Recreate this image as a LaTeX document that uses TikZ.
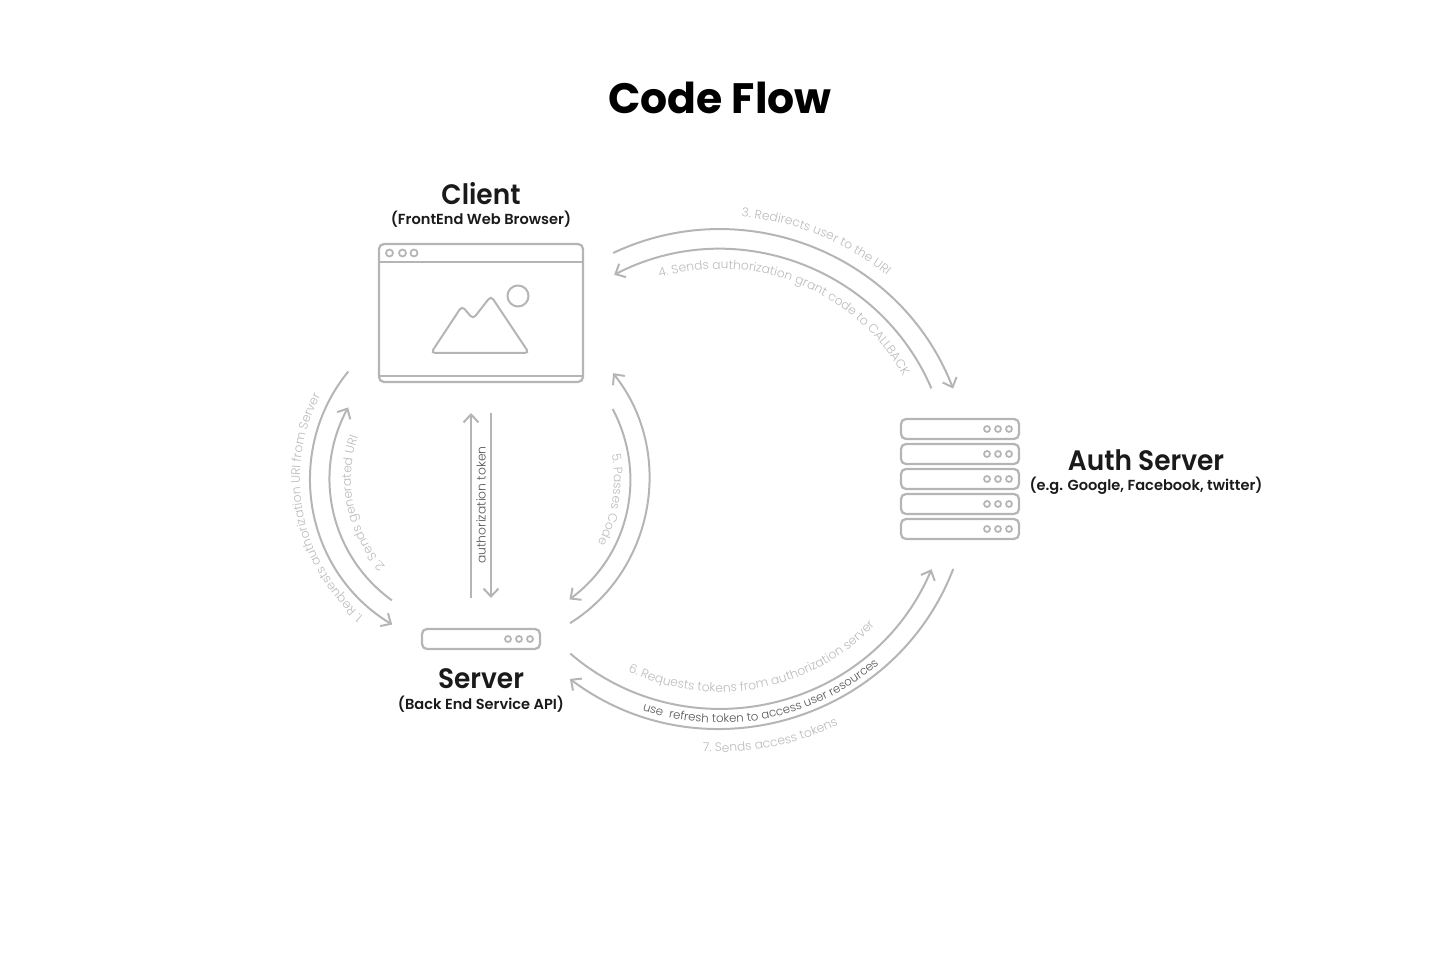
\documentclass[tikz,border=0pt]{standalone}
\usepackage{fontspec}
\setmainfont{Poppins}
\newfontfamily\flowfont{Poppins Light}
\newfontfamily\partfont{Poppins SemiBold}[FakeStretch=0.94]
\newfontfamily\subfont{Poppins SemiBold}
\usetikzlibrary{arrows.meta,calc,decorations.text}
\definecolor{linegray}{HTML}{B5B5B5}
\definecolor{textgray}{HTML}{BBBBBB}
\definecolor{darkgray}{HTML}{555555}
\definecolor{titleink}{HTML}{1A1A1A}
\newcommand{\arclabel}[7][7]{% size, centre, radius, from, to, colour, text
    \path[decorate, decoration={text along path, text align=center,
        text={|\flowfont\fontsize{#1}{8}\selectfont\color{#6}|#7}}]
        ($(#2)+(#4:#3)$) arc[start angle=#4, end angle=#5, radius=#3];
}
\begin{document}
\begin{tikzpicture}
        [
            panel/.style={draw=linegray, line width=0.045cm, rounded corners=0.1cm, inner sep=0pt, outer sep=0pt},
            detail/.style={draw=linegray, line width=0.04cm},
            pip/.style={draw=linegray, line width=0.035cm},
            flow/.style={draw=linegray, line width=0.04cm},
            flowtip/.style={flow, -{Straight Barb[length=0.16cm, width=0.3cm]}},
            headline/.style={font=\bfseries\fontsize{24.2}{30}\selectfont, text=black},
            partname/.style={font=\partfont\fontsize{16}{20}\selectfont, text=titleink},
            partsub/.style={font=\subfont\fontsize{8.3}{10}\selectfont, text=titleink},
        ]
            \useasboundingbox (0,0) rectangle (28.8,19.2);

            \node[headline] (title) at (14.4, 17.24) {Code Flow};

            % client window
            \node[partname] (clientname) at (9.62, 15.32) {Client};
            \node[partsub] (clientsub) at (9.62, 14.81) {(FrontEnd Web Browser)};
            \node[panel, minimum width=4.08cm, minimum height=2.76cm] (client) at (9.62, 12.94) {};
            \draw[detail] (client.west |- 0,13.96) -- (client.east |- 0,13.96);
            \draw[detail] (client.west |- 0,11.68) -- (client.east |- 0,11.68);
            \foreach \dotx in {7.79, 8.05, 8.28}
                \draw[pip] (\dotx, 14.14) circle (0.07);
            \draw[detail, rounded corners=0.08cm] (8.62,12.14) -- (9.24,13.08) -- (9.46,12.82) -- (9.82,13.28) -- (10.58,12.14) -- cycle;
            \draw[detail] (10.36, 13.28) circle (0.21);

            % server
            \node[panel, minimum width=2.36cm, minimum height=0.4cm] (server) at (9.62, 6.42) {};
            \foreach \dotx in {0.2, 0.42, 0.64}
                \draw[pip] ([xshift=-\dotx cm]server.east) circle (0.06);
            \node[partname] (servername) at (9.62, 5.62) {Server};
            \node[partsub] (serversub) at (9.62, 5.11) {(Back End Service API)};

            % auth server
            \foreach \row/\rowy in {1/10.62, 2/10.12, 3/9.62, 4/9.12, 5/8.62} {
                \node[panel, minimum width=2.36cm, minimum height=0.4cm] (auth\row) at (19.2, \rowy) {};
                \foreach \dotx in {0.2, 0.42, 0.64}
                    \draw[pip] ([xshift=-\dotx cm]auth\row.east) circle (0.06);
            }
            \node[partname] (authname) at (22.92, 10.0) {Auth Server};
            \node[partsub] (authsub) at (22.92, 9.49) {(e.g. Google, Facebook, twitter)};

            % ring centres
            \coordinate (ringL) at (9.6, 9.62);
            \coordinate (ringR) at (14.4, 9.62);

            \coordinate (s1) at ($(ringL)+(140.8:3.4)$);
            \coordinate (e1) at ($(ringL)+(238.9:3.4)$);
            \coordinate (s2) at ($(ringL)+(234:3)$);
            \coordinate (e2) at ($(ringL)+(151.5:3)$);
            \coordinate (s3) at ($(ringR)+(115.3:5)$);
            \coordinate (e3) at ($(ringR)+(21.2:5)$);
            \coordinate (s4) at ($(ringR)+(23.2:4.6)$);
            \coordinate (e4) at ($(ringR)+(117.4:4.6)$);
            \coordinate (s5) at ($(ringL)+(27.8:3)$);
            \coordinate (e5) at ($(ringL)+(-53.4:3)$);
            \coordinate (s5b) at ($(ringL)+(-58:3.4)$);
            \coordinate (e5b) at ($(ringL)+(38.5:3.4)$);
            \coordinate (s6) at ($(ringR)+(229.4:4.6)$);
            \coordinate (e6) at ($(ringR)+(336.9:4.6)$);
            \coordinate (s7) at ($(ringR)+(338.9:5)$);
            \coordinate (e7) at ($(ringR)+(233.1:5)$);
            \coordinate (tokenup) at (9.42, 10.94);
            \coordinate (tokenupstart) at (9.42, 7.24);
            \coordinate (tokendown) at (9.82, 7.24);
            \coordinate (tokendownstart) at (9.82, 10.94);

            \draw[flowtip] (s1) to [out=230.8, in=148.9, looseness=1.03] (e1);
            \draw[flowtip] (s2) to [out=144, in=241.5, looseness=0.98] (e2);
            \draw[flowtip] (s3) to [out=25.3, in=111.2, looseness=1.01] (e3);
            \draw[flowtip] (s4) to [out=113.2, in=27.4, looseness=1.01] (e4);
            \draw[flowtip] (s5) to [out=-62.2, in=36.6, looseness=0.98] (e5);
            \draw[flowtip] (s5b) to [out=32, in=-51.5, looseness=1.01] (e5b);
            \draw[flowtip] (s6) to [out=319.4, in=246.9, looseness=1.07] (e6);
            \draw[flowtip] (s7) to [out=248.9, in=323.1, looseness=1.06] (e7);
            \draw[flowtip] (tokenupstart) -- (tokenup);
            \draw[flowtip] (tokendownstart) -- (tokendown);

            \node[rotate=90, font=\flowfont\fontsize{7}{8}\selectfont, text=darkgray] (tokenlabel) at (9.62, 9.1) {authorization token};

            % labels: arcs run past the text, the text stays centred
            \arclabel{ringL}{3.6}{251}{131}{textgray}{1. Requests authorization URI from Server}
            \arclabel{ringL}{2.58}{252}{132}{textgray}{2. Sends generated URI}
            \arclabel{ringR}{5.26}{112}{24}{textgray}{3. Redirects user to the URI}
            \arclabel{ringR}{4.2}{143}{-7}{textgray}{4. Sends authorization grant code to CALLBACK}
            \arclabel{ringL}{2.68}{51}{-69}{textgray}{5. Passes Code}
            \arclabel{ringR}{4.26}{205}{356}{textgray}{6. Requests tokens from authorization server}
            \arclabel[6.7]{ringR}{4.88}{221}{341}{darkgray}{use {\ }refresh token to access user resources}
            \arclabel{ringR}{5.46}{221}{341}{textgray}{7. Sends access tokens}
        \end{tikzpicture}
\end{document}
